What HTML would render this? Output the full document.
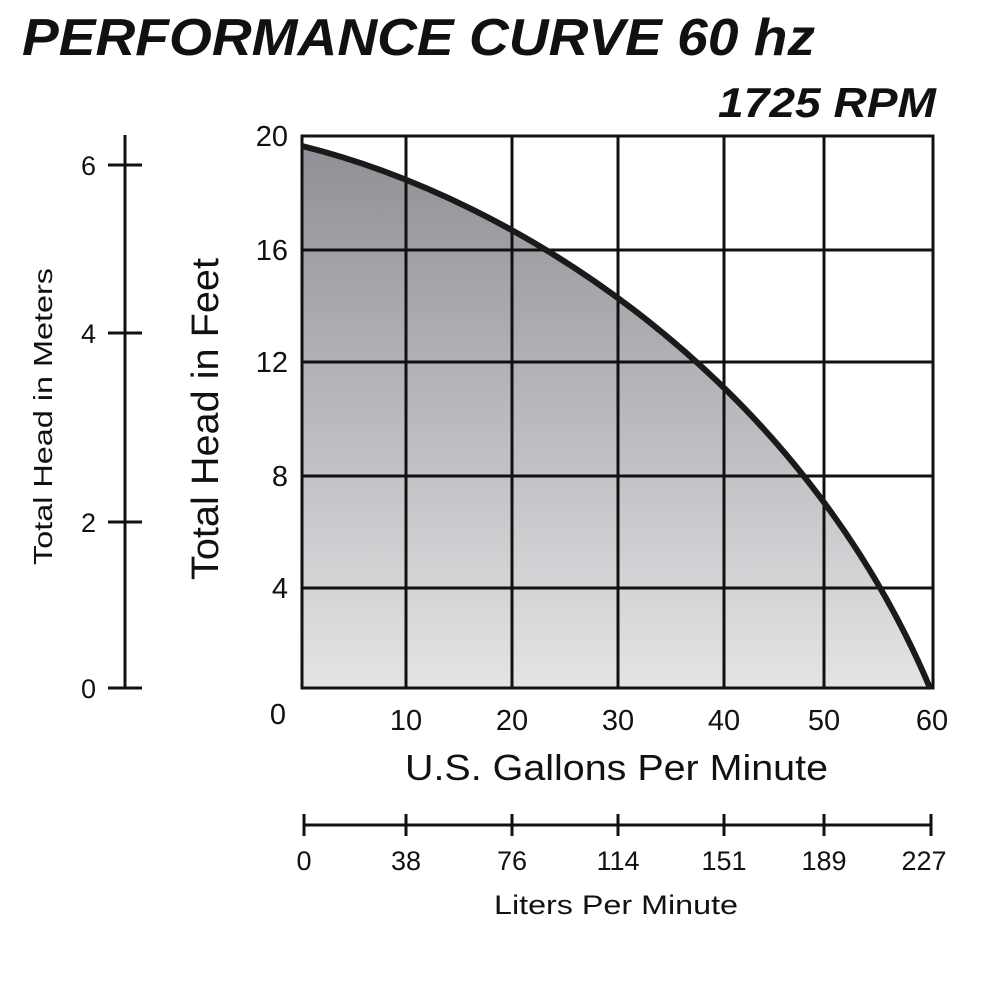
<!DOCTYPE html>
<html><head><style>
body{margin:0;background:#fff;}
svg text{font-family:"Liberation Sans",Arial,sans-serif;fill:#111;}
</style></head><body>
<svg width="1000" height="1000" viewBox="0 0 1000 1000" xmlns="http://www.w3.org/2000/svg">
<defs>
<linearGradient id="g" x1="0" y1="0" x2="0" y2="1">
<stop offset="0" stop-color="#8f9095"/>
<stop offset="1" stop-color="#e4e4e6"/>
</linearGradient>
</defs>
<text x="22" y="55" font-size="52" font-weight="bold" font-style="italic" textLength="793" lengthAdjust="spacingAndGlyphs">PERFORMANCE CURVE 60 hz</text>
<text x="718" y="117" font-size="42" font-weight="bold" font-style="italic" textLength="218" lengthAdjust="spacingAndGlyphs">1725 RPM</text>
<path d="M302,146 C520,200 800,380 930,688 L302,688 Z" fill="url(#g)"/>
<g stroke="#111" stroke-width="3" fill="none">
<rect x="302" y="136" width="631" height="552"/>
<line x1="406" y1="136" x2="406" y2="688"/><line x1="512" y1="136" x2="512" y2="688"/>
<line x1="618" y1="136" x2="618" y2="688"/><line x1="724" y1="136" x2="724" y2="688"/>
<line x1="824" y1="136" x2="824" y2="688"/>
<line x1="302" y1="250" x2="933" y2="250"/><line x1="302" y1="362" x2="933" y2="362"/>
<line x1="302" y1="476" x2="933" y2="476"/><line x1="302" y1="588" x2="933" y2="588"/>
</g>
<path d="M302,146 C520,200 800,380 930,688" stroke="#1a1a1a" stroke-width="6" fill="none"/>
<g font-size="29" text-anchor="end">
<text x="288" y="146">20</text><text x="288" y="260">16</text><text x="288" y="372">12</text>
<text x="288" y="486">8</text><text x="288" y="598">4</text>
</g>
<g font-size="29" text-anchor="middle">
<text x="278" y="724">0</text><text x="406" y="730">10</text><text x="512" y="730">20</text>
<text x="618" y="730">30</text><text x="724" y="730">40</text><text x="824" y="730">50</text><text x="932" y="730">60</text>
</g>
<text x="405" y="780" font-size="36" textLength="423" lengthAdjust="spacingAndGlyphs">U.S. Gallons Per Minute</text>
<text transform="translate(218,580) rotate(-90)" font-size="38" textLength="322" lengthAdjust="spacingAndGlyphs">Total Head in Feet</text>
<g stroke="#111" stroke-width="3">
<line x1="125" y1="135" x2="125" y2="688"/>
<line x1="108" y1="165" x2="142" y2="165"/><line x1="108" y1="333" x2="142" y2="333"/>
<line x1="108" y1="522" x2="142" y2="522"/><line x1="108" y1="688" x2="142" y2="688"/>
</g>
<g font-size="27" text-anchor="end">
<text x="96" y="175">6</text><text x="96" y="343">4</text><text x="96" y="532">2</text><text x="96" y="698">0</text>
</g>
<text transform="translate(52,565) rotate(-90)" font-size="26" textLength="297" lengthAdjust="spacingAndGlyphs">Total Head in Meters</text>
<g stroke="#111" stroke-width="3">
<line x1="303" y1="825" x2="932" y2="825"/>
<line x1="304" y1="814" x2="304" y2="836"/><line x1="406" y1="814" x2="406" y2="836"/>
<line x1="512" y1="814" x2="512" y2="836"/><line x1="618" y1="814" x2="618" y2="836"/>
<line x1="724" y1="814" x2="724" y2="836"/><line x1="824" y1="814" x2="824" y2="836"/>
<line x1="931" y1="814" x2="931" y2="836"/>
</g>
<g font-size="27" text-anchor="middle">
<text x="304" y="870">0</text><text x="406" y="870">38</text><text x="512" y="870">76</text>
<text x="618" y="870">114</text><text x="724" y="870">151</text><text x="824" y="870">189</text><text x="924" y="870">227</text>
</g>
<text x="494" y="914" font-size="27" textLength="244" lengthAdjust="spacingAndGlyphs">Liters Per Minute</text>
</svg>
</body></html>
